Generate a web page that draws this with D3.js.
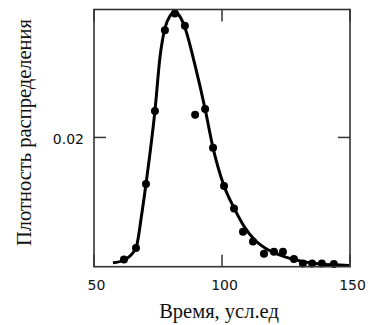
<!DOCTYPE html>
<html>
<head>
<meta charset="utf-8">
<script src="https://cdn.jsdelivr.net/npm/d3@7"></script>
<style>
  body { margin: 0; background: #fff; }
  svg { display: block; }
  .tick-lbl { font-family: "DejaVu Sans", sans-serif; font-size: 14px; fill: #111; }
  .title { font-family: "Liberation Serif", "Times New Roman", serif; font-size: 20.5px; fill: #111; }
</style>
</head>
<body>
<svg id="chart" width="368" height="325"></svg>
<script>
// measured sample points (time, density)
var pointX = [61.7, 66.4, 70.3, 73.8, 77.7, 81.6, 85.5, 89.5, 93.4, 96.5, 100.8, 104.7, 108.2, 112.1, 116.4, 120.3, 123.8, 128.1, 131.6, 135.2, 139.0, 143.7];
var pointY = [0.0011, 0.0029, 0.0128, 0.0241, 0.0366, 0.0392, 0.0373, 0.0235, 0.0244, 0.0184, 0.0125, 0.0090, 0.0054, 0.0039, 0.0020, 0.0023, 0.0023, 0.0012, 0.0005, 0.0005, 0.0005, 0.0004];

// fitted curve
var curveX = [57.4, 61.7, 66.4, 68.6, 70.3, 73.8, 75.8, 77.7, 79.7, 81.6, 83.6, 85.5, 89.5, 93.4, 96.5, 100.8, 104.7, 109.0, 112.9, 116.8, 122.7, 130.5, 138.3, 149.6];
var curveY = [0.0006, 0.0010, 0.0029, 0.0080, 0.0128, 0.0241, 0.0325, 0.0369, 0.0388, 0.0394, 0.0387, 0.0370, 0.0311, 0.0244, 0.0184, 0.0125, 0.0091, 0.0060, 0.0041, 0.0029, 0.0018, 0.0009, 0.0004, 0.0002];

var xTicks = [50, 100, 150];
var yTicks = [0.02];

var pLeft = 94, pRight = 350, pTop = 9.5, pBottom = 266.7;

var svg = d3.select("#chart");
var x = d3.scaleLinear().domain([50, 150]).range([pLeft, pRight]);
var y = d3.scaleLinear().domain([0, 0.0398]).range([pBottom, pTop]);

// curve
var line = d3.line()
  .x(function(d){ return x(d[0]); })
  .y(function(d){ return y(d[1]); })
  .curve(d3.curveMonotoneX);

svg.append("path")
  .datum(d3.zip(curveX, curveY))
  .attr("d", line)
  .attr("fill", "none")
  .attr("stroke", "#000")
  .attr("stroke-width", 3);

svg.selectAll("circle.pt")
  .data(d3.zip(pointX, pointY))
  .enter()
  .append("circle")
  .attr("class", "pt")
  .attr("cx", function(d){ return x(d[0]); })
  .attr("cy", function(d){ return y(d[1]); })
  .attr("r", 4)
  .attr("fill", "#000");

// frame
svg.append("rect")
  .attr("x", pLeft).attr("y", pTop)
  .attr("width", pRight - pLeft).attr("height", pBottom - pTop)
  .attr("fill", "none")
  .attr("stroke", "#333")
  .attr("stroke-width", 1.6);

// inner ticks
var tl = 12;
xTicks.forEach(function(t){
  svg.append("line").attr("x1", x(t)).attr("x2", x(t)).attr("y1", pBottom).attr("y2", pBottom - tl).attr("stroke", "#333").attr("stroke-width", 1.5);
  svg.append("line").attr("x1", x(t)).attr("x2", x(t)).attr("y1", pTop).attr("y2", pTop + tl).attr("stroke", "#333").attr("stroke-width", 1.5);
  svg.append("text").attr("class", "tick-lbl")
    .attr("x", x(t) + 2.5).attr("y", 290)
    .attr("text-anchor", "middle")
    .text(t);
});
yTicks.forEach(function(t){
  svg.append("line").attr("x1", pLeft).attr("x2", pLeft + tl).attr("y1", y(t)).attr("y2", y(t)).attr("stroke", "#333").attr("stroke-width", 1.5);
  svg.append("line").attr("x1", pRight).attr("x2", pRight - tl).attr("y1", y(t)).attr("y2", y(t)).attr("stroke", "#333").attr("stroke-width", 1.5);
  svg.append("text").attr("class", "tick-lbl")
    .attr("x", 84).attr("y", y(t) + 7)
    .attr("text-anchor", "end")
    .text(t);
});

// titles
svg.append("text").attr("class", "title")
  .attr("x", 219).attr("y", 318)
  .attr("text-anchor", "middle")
  .text("Время, усл.ед");

svg.append("text").attr("class", "title")
  .attr("transform", "translate(31,132.5) rotate(-90)")
  .attr("text-anchor", "middle")
  .text("Плотность распределения");
</script>
</body>
</html>
